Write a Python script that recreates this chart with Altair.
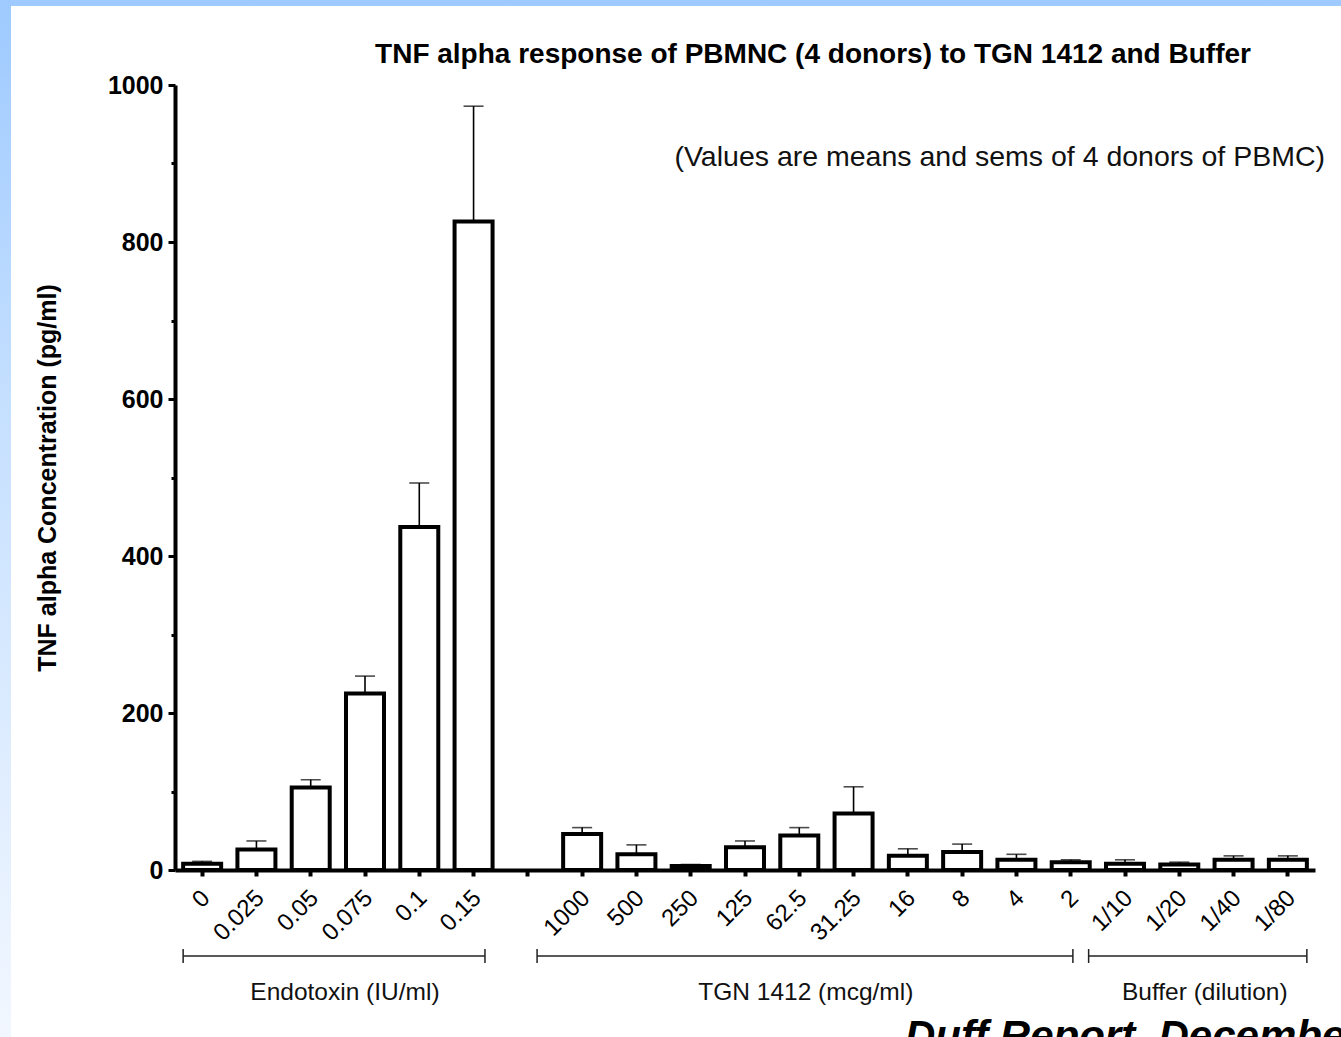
import altair as alt
import pandas as pd

# ---- data ----
categories = ["0", "0.025", "0.05", "0.075", "0.1", "0.15",
              "1000", "500", "250", "125", "62.5", "31.25", "16", "8", "4", "2",
              "1/10", "1/20", "1/40", "1/80"]
means = [8, 26, 105, 225, 437, 826,
         46, 20, 5, 29, 44, 72, 18, 23, 13, 10,
         8, 7, 13, 13]
sems = [3, 11, 10, 22, 56, 147,
        8, 12, 2, 8, 10, 34, 9, 10, 7, 3,
        5, 3, 5, 5]

group_names = ["Endotoxin (IU/ml)", "TGN 1412 (mcg/ml)", "Buffer (dilution)"]

title_text = "TNF alpha response of PBMNC (4 donors) to TGN 1412 and Buffer"
note_text = "(Values are means and sems of 4 donors of PBMC)"
footer_text = "Duff Report, December 2006"
y_title = "TNF alpha Concentration (pg/ml)"

GAP = " "
x_domain = categories[:6] + [GAP] + categories[6:]

# bracket anchors: (category, offset within band)
group_start = [("0", 0.15), (GAP, 0.67), ("2", 0.83)]
group_end = [("0.15", 0.71), ("2", 0.54), ("1/80", 0.85)]
group_label = [("0.075", 0.13), ("62.5", 0.62), ("1/20", 0.97)]

df = pd.DataFrame({"cat": categories, "mean": means, "sem": sems})
df["upper"] = df["mean"] + df["sem"]

FONT = "Liberation Sans"
W, H = 1140, 785
PAD_L, PAD_T = 175, 85
TOTAL_W, TOTAL_H = 1341, 1037

xscale = alt.Scale(domain=x_domain, paddingInner=0, paddingOuter=0)
yscale = alt.Scale(domain=[0, 1000], nice=False)

base = alt.Chart(df)

# background frame
bg = alt.Chart(pd.DataFrame({"k": [0]})).mark_rect(
    fill=alt.Gradient(
        gradient="linear", x1=0, x2=0, y1=0, y2=1,
        stops=[alt.GradientStop(color="#9ecaff", offset=0),
               alt.GradientStop(color="#c6e0ff", offset=0.4),
               alt.GradientStop(color="#f2f7ff", offset=1)]),
).encode(x=alt.value(-PAD_L), x2=alt.value(TOTAL_W - PAD_L),
         y=alt.value(-PAD_T), y2=alt.value(TOTAL_H - PAD_T))
panel = alt.Chart(pd.DataFrame({"k": [0]})).mark_rect(fill="white").encode(
    x=alt.value(11 - PAD_L), x2=alt.value(TOTAL_W - PAD_L),
    y=alt.value(6 - PAD_T), y2=alt.value(TOTAL_H - PAD_T))

bars = base.mark_bar(size=38, fill="white", stroke="black", strokeWidth=4).encode(
    x=alt.X("cat:N", scale=xscale, sort=x_domain,
            axis=alt.Axis(title=None, labelAngle=-45, labelAlign="right",
                          labelBaseline="middle", labelFontSize=24,
                          labelFont=FONT, labelColor="black", labelPadding=18,
                          labelOffset=4,
                          tickSize=6, tickWidth=4, tickColor="black",
                          domainWidth=4, domainColor="black", zindex=2)),
    y=alt.Y("mean:Q", scale=yscale,
            axis=alt.Axis(title=y_title, values=list(range(0, 1001, 100)),
                          labelExpr="datum.value % 200 == 0 ? datum.label : ''",
                          format="d",
                          labelFontSize=25, labelFontWeight="bold", labelFont=FONT,
                          labelColor="black", labelPadding=5,
                          tickSize={"condition": {"test": "datum.value % 200 == 0", "value": 7}, "value": 4},
                          tickWidth=3, tickColor="black",
                          domainWidth=4, domainColor="black",
                          titleFont=FONT, titleFontSize=25, titleFontWeight="bold",
                          titleColor="black", titlePadding=47, zindex=2)),
)

err = base.mark_rule(strokeWidth=1.6, color="black").encode(
    x=alt.X("cat:N", scale=xscale, sort=x_domain),
    y=alt.Y("mean:Q", scale=yscale), y2="upper:Q")
caps = base.mark_tick(size=20, thickness=1.6, color="black").encode(
    x=alt.X("cat:N", scale=xscale, sort=x_domain),
    y=alt.Y("upper:Q", scale=yscale))

layers = [bg, panel, bars, err, caps]

for name, (c0, p0), (c1, p1), (cl, pl) in zip(group_names, group_start, group_end, group_label):
    gdf = pd.DataFrame({"first": [c0], "last": [c1], "name": [name], "lc": [cl]})
    gb = alt.Chart(gdf)
    line = gb.mark_rule(strokeWidth=1.5, color="#222").encode(
        x=alt.X("first:N", scale=xscale, bandPosition=p0),
        x2=alt.X2("last:N", bandPosition=p1),
        y=alt.value(871))
    capl = gb.mark_rule(strokeWidth=1.5, color="#222").encode(
        x=alt.X("first:N", scale=xscale, bandPosition=p0),
        y=alt.value(864), y2=alt.value(878))
    capr = gb.mark_rule(strokeWidth=1.5, color="#222").encode(
        x=alt.X("last:N", scale=xscale, bandPosition=p1),
        y=alt.value(864), y2=alt.value(878))
    lab = gb.mark_text(font=FONT, fontSize=24.5, color="#111", baseline="middle", align="center").encode(
        x=alt.X("lc:N", scale=xscale, bandPosition=pl),
        y=alt.value(908), text="name:N")
    layers += [line, capl, capr, lab]

title = alt.Chart(pd.DataFrame({"t": [title_text]})).mark_text(
    font=FONT, fontSize=28, fontWeight="bold", align="center", baseline="middle", color="black"
).encode(x=alt.value(638), y=alt.value(-30), text="t:N")
note = alt.Chart(pd.DataFrame({"t": [note_text]})).mark_text(
    font=FONT, fontSize=28.5, align="right", baseline="middle", color="#111"
).encode(x=alt.value(1150), y=alt.value(72), text="t:N")
footer = alt.Chart(pd.DataFrame({"t": [footer_text]})).mark_text(
    font=FONT, fontSize=42, fontWeight="bold", fontStyle="italic",
    align="left", baseline="alphabetic", color="black"
).encode(x=alt.value(730), y=alt.value(965), text="t:N")
layers += [title, note, footer]

chart = alt.layer(*layers).properties(
    width=W, height=H,
    autosize=alt.AutoSizeParams(type="none"),
    padding={"left": PAD_L, "top": PAD_T, "right": TOTAL_W - PAD_L - W,
             "bottom": TOTAL_H - PAD_T - H},
).configure_view(stroke=None).configure_axis(grid=False)

chart.save("out.html", embed_options={"renderer": "svg", "actions": False})
